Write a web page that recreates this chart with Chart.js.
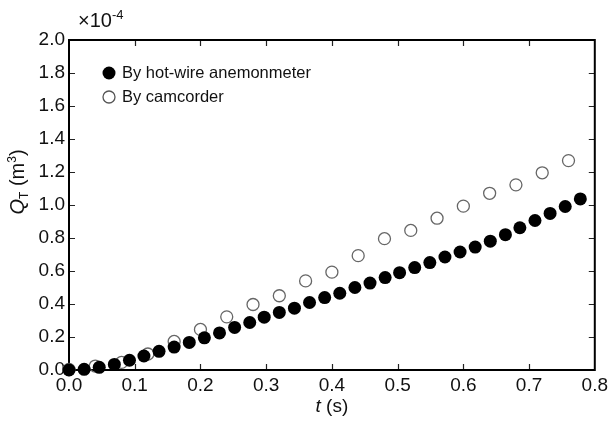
<!DOCTYPE html>
<html>
<head>
<meta charset="utf-8">
<script src="https://cdn.jsdelivr.net/npm/chart.js@4.4.0/dist/chart.umd.min.js"></script>
<style>
  html, body { margin: 0; padding: 0; background: #fff; }
  #wrap { width: 612px; height: 421px; }
</style>
</head>
<body>
<div id="wrap"><canvas id="chart" width="612" height="421"></canvas></div>
<script>
// hot-wire anemometer samples: time (s) and volume (x10^-4 m^3)
const hotWireT = [0.000, 0.023, 0.046, 0.069, 0.092, 0.114, 0.137, 0.160, 0.183, 0.206, 0.229, 0.252,
    0.275, 0.297, 0.320, 0.343, 0.366, 0.389, 0.412, 0.435, 0.458, 0.481, 0.503, 0.526, 0.549, 0.572,
    0.595, 0.618, 0.641, 0.664, 0.686, 0.709, 0.732, 0.755, 0.778];
const hotWireQ = [0.000, 0.004, 0.016, 0.034, 0.059, 0.085, 0.113, 0.139, 0.167, 0.195, 0.225, 0.258,
    0.288, 0.320, 0.349, 0.375, 0.409, 0.439, 0.465, 0.500, 0.527, 0.560, 0.590, 0.621, 0.651, 0.685,
    0.715, 0.745, 0.781, 0.820, 0.862, 0.906, 0.949, 0.991, 1.037];

// camcorder samples
const camT = [0.00, 0.04, 0.08, 0.12, 0.16, 0.20, 0.24, 0.28, 0.32, 0.36, 0.40, 0.44, 0.48, 0.52,
    0.56, 0.60, 0.64, 0.68, 0.72, 0.76];
const camQ = [0.003, 0.024, 0.046, 0.097, 0.173, 0.246, 0.322, 0.397, 0.450, 0.540, 0.593, 0.693,
    0.796, 0.846, 0.920, 0.993, 1.071, 1.122, 1.195, 1.269];

const seriesNames = ['By hot-wire anemonmeter', 'By camcorder'];
const xTicks = [0.0, 0.1, 0.2, 0.3, 0.4, 0.5, 0.6, 0.7, 0.8];
const yTicks = [0.0, 0.2, 0.4, 0.6, 0.8, 1.0, 1.2, 1.4, 1.6, 1.8, 2.0];

const FONT = 'Liberation Sans, Arial, sans-serif';

// frame, inward ticks, titles and legend
const decorPlugin = {
    id: 'decor',
    beforeDatasetsDraw(chart) {
        const { ctx, chartArea: a, scales } = chart;
        ctx.save();
        ctx.strokeStyle = '#222';
        ctx.lineWidth = 1.2;
        const tl = 6;
        xTicks.slice(1, -1).forEach(v => {
            const px = Math.round(scales.x.getPixelForValue(v)) + 0.5;
            ctx.beginPath();
            ctx.moveTo(px, a.bottom); ctx.lineTo(px, a.bottom - tl);
            ctx.moveTo(px, a.top); ctx.lineTo(px, a.top + tl);
            ctx.stroke();
        });
        yTicks.slice(1, -1).forEach(v => {
            const py = Math.round(scales.y.getPixelForValue(v)) + 0.5;
            ctx.beginPath();
            ctx.moveTo(a.left, py); ctx.lineTo(a.left + tl, py);
            ctx.moveTo(a.right, py); ctx.lineTo(a.right - tl, py);
            ctx.stroke();
        });
        ctx.strokeStyle = '#000';
        ctx.lineWidth = 2;
        ctx.strokeRect(a.left, a.top, a.right - a.left, a.bottom - a.top);
        ctx.restore();
    },
    afterDraw(chart) {
        const { ctx, chartArea: a } = chart;
        ctx.save();
        ctx.fillStyle = '#111';
        ctx.textBaseline = 'alphabetic';

        // exponent label
        ctx.font = '20px ' + FONT;
        ctx.textAlign = 'left';
        ctx.fillText('\u00d710', 78, 27);
        ctx.font = '13px ' + FONT;
        ctx.fillText('-4', 112, 19);

        // x title
        const xMid = (a.left + a.right) / 2;
        ctx.font = 'italic 19px ' + FONT;
        const tW = ctx.measureText('t').width;
        ctx.font = '19px ' + FONT;
        const rest = ' (s)';
        const rW = ctx.measureText(rest).width;
        const x0 = xMid - (tW + rW) / 2;
        ctx.font = 'italic 19px ' + FONT;
        ctx.fillText('t', x0, 412);
        ctx.font = '19px ' + FONT;
        ctx.fillText(rest, x0 + tW, 412);

        // y title, rotated
        ctx.translate(24, 182);
        ctx.rotate(-Math.PI / 2);
        const parts = [
            { t: 'Q', f: 'italic 20px ', dy: 0 },
            { t: 'T', f: '12px ', dy: 4 },
            { t: ' (m', f: '20px ', dy: 0 },
            { t: '3', f: '12px ', dy: -8 },
            { t: ')', f: '20px ', dy: 0 }
        ];
        let total = 0;
        parts.forEach(p => { ctx.font = p.f + FONT; p.w = ctx.measureText(p.t).width; total += p.w; });
        let cx = -total / 2;
        parts.forEach(p => {
            ctx.font = p.f + FONT;
            ctx.fillText(p.t, cx, p.dy);
            cx += p.w;
        });
        ctx.restore();

        // legend
        ctx.save();
        ctx.font = '16.5px ' + FONT;
        ctx.textBaseline = 'middle';
        ctx.beginPath();
        ctx.arc(109, 73, 6.5, 0, Math.PI * 2);
        ctx.fillStyle = '#000';
        ctx.fill();
        ctx.fillStyle = '#111';
        ctx.fillText(seriesNames[0], 122, 73);
        ctx.beginPath();
        ctx.arc(109, 97, 6, 0, Math.PI * 2);
        ctx.strokeStyle = '#555';
        ctx.lineWidth = 1.3;
        ctx.stroke();
        ctx.fillText(seriesNames[1], 122, 97);
        ctx.restore();
    }
};

new Chart(document.getElementById('chart'), {
    type: 'scatter',
    data: {
        datasets: [
            {
                label: seriesNames[0],
                data: hotWireT.map((t, i) => ({ x: t, y: hotWireQ[i] })),
                pointRadius: 6.5,
                pointBackgroundColor: '#000',
                pointBorderWidth: 0,
                clip: false
            },
            {
                label: seriesNames[1],
                data: camT.map((t, i) => ({ x: t, y: camQ[i] })),
                pointRadius: 6,
                pointBackgroundColor: 'rgba(255,255,255,0)',
                pointBorderColor: '#666',
                pointBorderWidth: 1.3,
                clip: false
            }
        ]
    },
    options: {
        responsive: false,
        animation: false,
        devicePixelRatio: 1,
        layout: { padding: { top: 40, right: 14, left: 0, bottom: 0 } },
        plugins: {
            legend: { display: false },
            tooltip: { enabled: false }
        },
        scales: {
            x: {
                type: 'linear',
                min: 0,
                max: 0.8,
                afterBuildTicks: s => { s.ticks = xTicks.map(v => ({ value: v })); },
                afterFit: s => { s.height = 51; },
                grid: { display: false, drawTicks: false },
                border: { display: false },
                ticks: {
                    callback: v => v.toFixed(1),
                    font: { family: FONT, size: 19 },
                    color: '#111',
                    padding: 4,
                    maxRotation: 0,
                    autoSkip: false
                }
            },
            y: {
                type: 'linear',
                min: 0,
                max: 2.0,
                afterBuildTicks: s => { s.ticks = yTicks.map(v => ({ value: v })); },
                afterFit: s => { s.width = 69; },
                grid: { display: false, drawTicks: false },
                border: { display: false },
                ticks: {
                    callback: v => v.toFixed(1),
                    font: { family: FONT, size: 19 },
                    color: '#111',
                    padding: 4,
                    autoSkip: false
                }
            }
        }
    },
    plugins: [decorPlugin]
});
</script>
</body>
</html>
